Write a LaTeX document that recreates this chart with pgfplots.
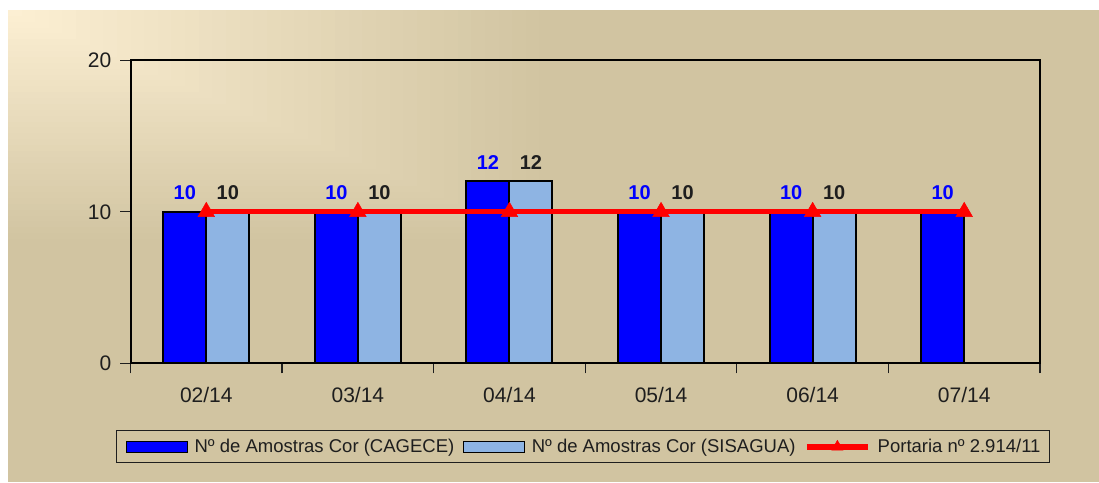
\documentclass[border=0pt]{standalone}
\usepackage{pgfplots}
\pgfplotsset{compat=1.18}
\usepackage{fontspec}
\setmainfont{Liberation Sans}
\definecolor{tanc}{HTML}{D1C4A1}
\definecolor{cream}{HTML}{FDF0D4}
\definecolor{lblue}{HTML}{8EB4E3}
\definecolor{txt}{HTML}{1E1E1E}
\begin{document}
\begin{tikzpicture}[x=1pt,y=1pt]
\path[use as bounding box] (0,0) rectangle (1099,482);
\fill[white] (0,0) rectangle (1099,482);
\fill[tanc] (8,0) rectangle (1099,472);
\foreach \i in {40,...,1}{
  \pgfmathsetmacro{\t}{\i/40}
  \pgfmathsetmacro{\p}{100*\t}
  \pgfmathsetmacro{\xr}{8+545*\t}
  \pgfmathsetmacro{\yr}{472-235*\t}
  \fill[tanc!\p!cream] (8,472) rectangle (\xr,\yr);
}
\begin{axis}[
  at={(130.5pt,118.7pt)}, anchor=south west,
  scale only axis, width=909.5pt, height=303pt,
  xmin=-0.5, xmax=5.5, ymin=0, ymax=20,
  axis line style={line width=2pt, black},
  ytick={0,10,20},
  xtick={0,...,5},
  xticklabels={02/14,03/14,04/14,05/14,06/14,07/14},
  minor xtick={-0.5,0.5,...,5.5},
  xtick pos=bottom, ytick pos=left, tick align=outside,
  major tick length=10pt, minor tick length=10pt,
  major x tick style={draw=none},
  minor x tick style={line width=1.2pt, draw=txt},
  major y tick style={line width=1.2pt, draw=txt},
  ticklabel style={font=\fontsize{21}{24}\selectfont, text=txt},
  /pgf/number format/assume math mode=true,
  yticklabel style={inner sep=0pt, xshift=-9pt},
  xticklabel style={inner sep=0pt, yshift=-14pt},
  legend columns=3,
  legend style={at={(-0.0159,-0.2211)}, anchor=north west, draw=txt, line width=1.2pt,
    fill=none, inner xsep=9pt, inner ysep=8.5pt,
    font=\fontsize{18.5}{22}\selectfont, text=txt,
    nodes={inner sep=0pt}, cells={anchor=west},
    /tikz/every odd column/.append style={column sep=7pt},
    /tikz/every even column/.append style={column sep=8.5pt}},
]
\addplot[ybar, bar width=43pt, bar shift=-21.5pt, fill=blue, draw=black, line width=2pt,
  nodes near coords,
  nodes near coords style={font=\bfseries\fontsize{20}{24}\selectfont, text=blue, anchor=base, yshift=12pt, xshift=-21.5pt},
  legend image code/.code={\draw[fill=blue, draw=black, line width=1pt] (0pt,-5.5pt) rectangle (61pt,5.5pt);}]
  coordinates {(0,10) (1,10) (2,12) (3,10) (4,10) (5,10)};
\addlegendentry{Nº de Amostras Cor (CAGECE)}
\addplot[ybar, bar width=43pt, bar shift=21.5pt, fill=lblue, draw=black, line width=2pt,
  nodes near coords,
  nodes near coords style={font=\bfseries\fontsize{20}{24}\selectfont, text=txt, anchor=base, yshift=12pt, xshift=21.5pt},
  legend image code/.code={\draw[fill=lblue, draw=black, line width=1pt] (0pt,-5.5pt) rectangle (61pt,5.5pt);}]
  coordinates {(0,10) (1,10) (2,12) (3,10) (4,10)};
\addlegendentry{Nº de Amostras Cor (SISAGUA)}
\addplot[draw=red, line width=5pt, mark=triangle*, mark size=9.5pt,
  mark options={fill=red, draw=red, line width=0.5pt},
  legend image code/.code={\draw[draw=red, line width=5.7pt, mark=triangle*, mark size=6.5pt, mark options={fill=red, draw=red, line width=0.5pt}, mark repeat=2, mark phase=2] plot coordinates {(0pt,0pt) (30.5pt,0pt) (61pt,0pt)};}]
  coordinates {(0,10) (1,10) (2,10) (3,10) (4,10) (5,10)};
\addlegendentry{Portaria nº 2.914/11}
\end{axis}
\end{tikzpicture}
\end{document}
